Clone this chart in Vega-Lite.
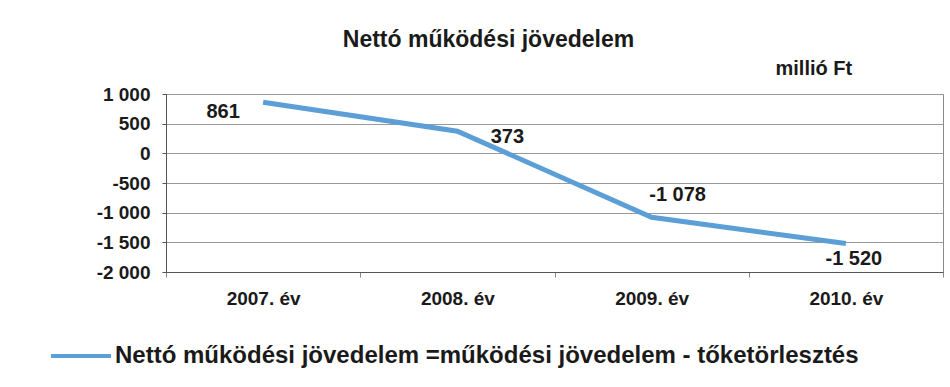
{
  "$schema": "https://vega.github.io/schema/vega-lite/v6.json",
  "width": 777,
  "height": 178,
  "autosize": {"type": "none"},
  "padding": {"left": 166, "top": 94, "right": 7, "bottom": 115},
  "background": "white",
  "config": {
    "locale": {"number": {"decimal": ",", "thousands": " ", "grouping": [3], "currency": ["", " Ft"], "minus": "-"}},
    "view": {"stroke": "#8a8a8a", "strokeWidth": 1},
    "font": "Liberation Sans"
  },
  "title": {
    "text": "Nettó működési jövedelem",
    "fontSize": 23,
    "fontWeight": "bold",
    "color": "#1a1a1a",
    "anchor": "middle",
    "dx": -66,
    "offset": 6
  },
  "data": {
    "values": [
      {"year": "2007. év", "value": 861, "series": "Nettó működési jövedelem =működési jövedelem  - tőketörlesztés"},
      {"year": "2008. év", "value": 373, "series": "Nettó működési jövedelem =működési jövedelem  - tőketörlesztés"},
      {"year": "2009. év", "value": -1078, "series": "Nettó működési jövedelem =működési jövedelem  - tőketörlesztés"},
      {"year": "2010. év", "value": -1520, "series": "Nettó működési jövedelem =működési jövedelem  - tőketörlesztés"}
    ]
  },
  "encoding": {
    "x": {
      "field": "year",
      "type": "ordinal",
      "scale": {"paddingInner": 0, "paddingOuter": 0},
      "axis": {
        "title": null,
        "labelAngle": 0,
        "labelFontSize": 19,
        "labelFontWeight": "bold",
        "labelColor": "#1a1a1a",
        "labelPadding": 12,
        "domainColor": "#555",
        "tickColor": "#888",
        "tickSize": 5,
        "tickBand": "extent",
        "grid": false
      }
    },
    "y": {
      "field": "value",
      "type": "quantitative",
      "scale": {"domain": [-2000, 1000], "nice": false},
      "axis": {
        "values": [-2000, -1500, -1000, -500, 0, 500, 1000],
        "labelExpr": "(datum.value < 0 ? '-' : '') + format(abs(datum.value), ',.0f')",
        "title": "millió Ft",
        "titleAngle": 0,
        "titleAlign": "left",
        "titleBaseline": "middle",
        "titleX": 609,
        "titleY": -26,
        "titleFontSize": 20,
        "titleFontWeight": "bold",
        "titleColor": "#1a1a1a",
        "labelFontSize": 19,
        "labelFontWeight": "bold",
        "labelColor": "#1a1a1a",
        "labelPadding": 12,
        "domainColor": "#555",
        "tickColor": "#555",
        "tickSize": 4,
        "gridColor": "#999999",
        "gridOpacity": 1
      }
    }
  },
  "layer": [
    {
      "mark": {"type": "line", "strokeWidth": 5, "strokeCap": "butt"},
      "encoding": {
        "color": {
          "field": "series",
          "type": "nominal",
          "scale": {"range": ["#5b9fd6"]},
          "legend": {
            "title": null,
            "orient": "none",
            "legendX": -117,
            "legendY": 230,
            "symbolType": "stroke",
            "symbolStrokeWidth": 4,
            "symbolSize": 3600,
            "labelFontSize": 24,
            "labelFontWeight": "bold",
            "labelColor": "#1a1a1a",
            "labelLimit": 900,
            "labelOffset": 2
          }
        }
      }
    },
    {
      "transform": [{"filter": "datum.year === '2007. év'"}],
      "mark": {"type": "text", "fontSize": 20, "fontWeight": "bold", "color": "#1a1a1a", "dx": -40, "dy": 10},
      "encoding": {"text": {"field": "value", "type": "quantitative", "format": ",.0f"}}
    },
    {
      "transform": [{"filter": "datum.year === '2008. év'"}],
      "mark": {"type": "text", "fontSize": 20, "fontWeight": "bold", "color": "#1a1a1a", "dx": 50, "dy": 6},
      "encoding": {"text": {"field": "value", "type": "quantitative", "format": ",.0f"}}
    },
    {
      "transform": [{"filter": "datum.year === '2009. év'"}],
      "mark": {"type": "text", "fontSize": 20, "fontWeight": "bold", "color": "#1a1a1a", "dx": 26, "dy": -22},
      "encoding": {"text": {"field": "value", "type": "quantitative", "format": ",.0f"}}
    },
    {
      "transform": [{"filter": "datum.year === '2010. év'"}],
      "mark": {"type": "text", "fontSize": 20, "fontWeight": "bold", "color": "#1a1a1a", "dx": 8, "dy": 15},
      "encoding": {"text": {"field": "value", "type": "quantitative", "format": ",.0f"}}
    }
  ]
}
